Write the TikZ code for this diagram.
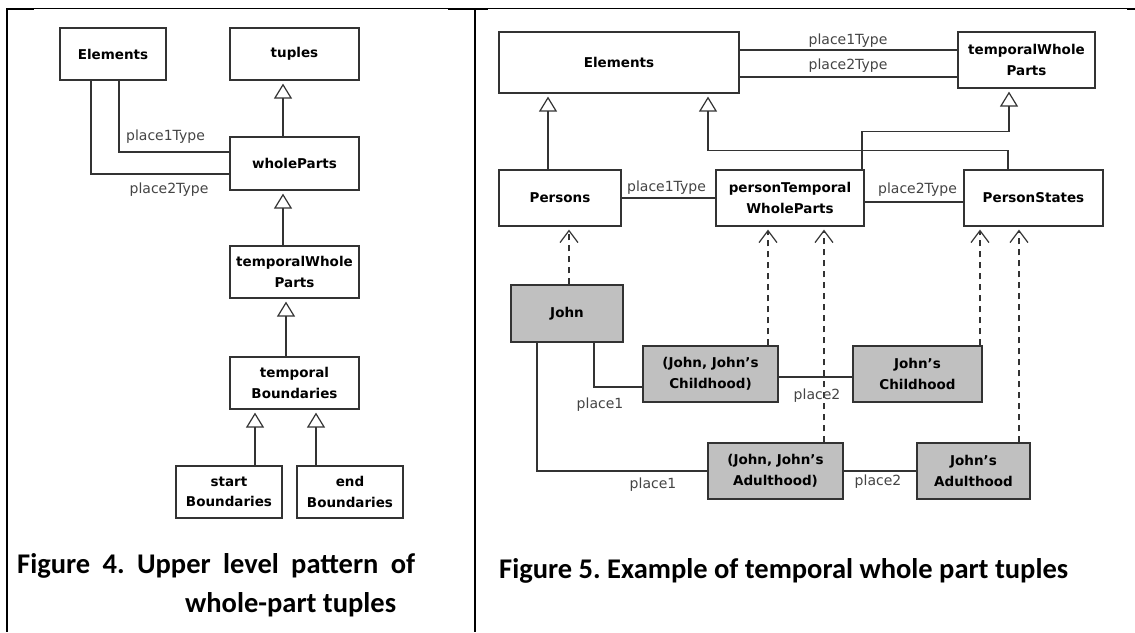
\documentclass[tikz,border=0pt]{standalone}
\usepackage{fontspec}
\setmainfont{DejaVu Sans}
\newfontfamily\capfont{Carlito}
\usetikzlibrary{arrows.meta}
\frenchspacing

\definecolor{edgecol}{HTML}{333333}
\definecolor{labelcol}{HTML}{444444}
\definecolor{instfill}{HTML}{C0C0C0}

\tikzset{
  box/.style 2 args={draw=edgecol, line width=1.2pt, fill=white, inner sep=0pt,
    minimum width=#1pt, minimum height=#2pt, align=center, text=black,
    font=\fontsize{13.5}{20.5}\selectfont\bfseries},
  inst/.style 2 args={box={#1}{#2}, fill=instfill},
  assoc/.style={draw=edgecol, line width=1.2pt},
  gen/.style={assoc, -{Triangle[open, length=15pt, width=18pt, line width=1.2pt]}, shorten >=3pt},
  dep/.style={assoc, dash pattern=on 6pt off 5pt,
    -{Straight Barb[length=12pt, width=18pt, line width=1.2pt]}, shorten >=3pt},
  rolelabel/.style={text=labelcol, inner sep=0pt, font=\fontsize{14}{16}\selectfont},
  caption/.style={inner sep=0pt, text=black, font=\capfont\bfseries\fontsize{28.5}{35}\selectfont},
  rule/.style={line width=#1, draw=black},
}

\begin{document}
\begin{tikzpicture}[x=1pt, y=-1pt]
\useasboundingbox (0,0) rectangle (1135,632);

% table rules separating the two figures
\draw[rule=1pt] (6,8) -- (1135,8);
\draw[rule=2pt] (7,8) -- (7,632);
\draw[rule=2pt] (475,8) -- (475,632);
\draw[rule=2pt] (6,9) -- (34,9);
\draw[rule=2pt] (448,9) -- (488,9);
\draw[rule=2pt] (1127,9) -- (1135,9);

% ---------- Figure 4: upper level pattern ----------
\node[box={106}{52}]  (el4)  at (113,54)    {Elements};
\node[box={129}{52}]  (tup)  at (294.5,54)  {tuples};
\node[box={129}{53}]  (wp)   at (294.5,163.5) {wholeParts};
\node[box={129}{52}]  (twp4) at (294.5,272) {temporalWhole\\Parts};
\node[box={129}{52}]  (tb)   at (294.5,383) {temporal\\Boundaries};
\node[box={106}{52}]  (sb)   at (229,492)   {start\\Boundaries};
\node[box={106}{52}]  (eb)   at (350,492)   {end\\Boundaries};

\draw[gen] ([xshift=-11.5pt]wp.north) -- ([xshift=-11.5pt]tup.south);
\draw[gen] ([xshift=-11.5pt]twp4.north) -- ([xshift=-11.5pt]wp.south);
\draw[gen] ([xshift=-8.5pt]tb.north) -- ([xshift=-8.5pt]twp4.south);
\draw[gen] ([xshift=26pt]sb.north) -- ([xshift=-39.5pt]tb.south);
\draw[gen] ([xshift=-34pt]eb.north) -- ([xshift=21.5pt]tb.south);

\draw[assoc] ([xshift=6pt]el4.south) |- ([yshift=11.5pt]wp.west);
\draw[assoc] ([xshift=-22pt]el4.south) |- ([yshift=-10.5pt]wp.west);
\node[rolelabel] (r4a) at (165.5,136.5) {place1Type};
\node[rolelabel] (r4b) at (169,190) {place2Type};

% justified first caption line, short second line
\node[caption, anchor=base west] (cap4a) at (17,573) {\makebox[398pt][s]{Figure 4. Upper level pattern of}};
\node[caption, anchor=base west] (cap4b) at (185,612) {whole-part tuples};

% ---------- Figure 5: temporal whole part tuples ----------
\node[box={240}{61}] (el5)  at (619,62.5)   {Elements};
\node[box={137}{56}] (twp5) at (1026.5,60)  {temporalWhole\\Parts};
\node[box={122}{56}] (pers) at (560,198)    {Persons};
\node[box={148}{56}] (ptwp) at (790,198)    {personTemporal\\WholeParts};
\node[box={139}{56}] (pst)  at (1033.5,198) {PersonStates};

\node[inst={112}{57}] (john) at (567,313.5)  {John};
\node[inst={135}{56}] (jjc)  at (710.5,374)  {(John, John's\\Childhood)};
\node[inst={129}{56}] (jc)   at (917.5,374)  {John's\\Childhood};
\node[inst={135}{56}] (jja)  at (775.5,471)  {(John, John's\\Adulthood)};
\node[inst={113}{56}] (ja)   at (973.5,471)  {John's\\Adulthood};

% type-level associations
\draw[assoc] ([yshift=12.5pt]el5.east) -- ([yshift=10pt]twp5.west);
\draw[assoc] ([yshift=-14.5pt]el5.east) -- ([yshift=-17pt]twp5.west);
\node[rolelabel] (r5a) at (848,41) {place1Type};
\node[rolelabel] (r5b) at (848,66) {place2Type};

\draw[assoc] (pers.east) -- (ptwp.west);
\draw[assoc] ([yshift=-4pt]ptwp.east) -- ([yshift=-4pt]pst.west);
\node[rolelabel] (r5c) at (666.5,188) {place1Type};
\node[rolelabel] (r5d) at (917.5,190) {place2Type};

% generalisations
\draw[gen] ([xshift=-12pt]pers.north) -- ([xshift=-71pt]el5.south);
\draw[gen] ([xshift=-25.5pt]pst.north) -- ++(0,-19) -| ([xshift=89pt]el5.south);
\draw[gen] ([xshift=72pt]ptwp.north) -- ++(0,-38) -| ([xshift=-17.5pt]twp5.south);

% instance-of dependencies
\draw[dep] ([xshift=2pt]john.north) -- ([xshift=9pt]pers.south);
\draw[dep] ([xshift=57.5pt]jjc.north) -- ([xshift=-22pt]ptwp.south);
\draw[dep] ([xshift=48.5pt]jja.north) -- ([xshift=34pt]ptwp.south);
\draw[dep] ([xshift=62.5pt]jc.north) -- ([xshift=-53.5pt]pst.south);
\draw[dep] ([xshift=45.5pt]ja.north) -- ([xshift=-14.5pt]pst.south);

% instance-level links
\draw[assoc] ([xshift=27pt]john.south) |- ([yshift=-13pt]jjc.west);
\draw[assoc] ([xshift=-30pt]john.south) |- (jja.west);
\draw[assoc] ([yshift=-3pt]jjc.east) -- ([yshift=-3pt]jc.west);
\draw[assoc] (jja.east) -- (ja.west);
\node[rolelabel] (r5e) at (600,405) {place1};
\node[rolelabel] (r5f) at (653,485) {place1};
\node[rolelabel] (r5g) at (817,396) {place2};
\node[rolelabel] (r5h) at (878,482) {place2};

\node[caption, anchor=base west] (cap5) at (499,578) {Figure 5. Example of temporal whole part tuples};
\end{tikzpicture}
\end{document}
